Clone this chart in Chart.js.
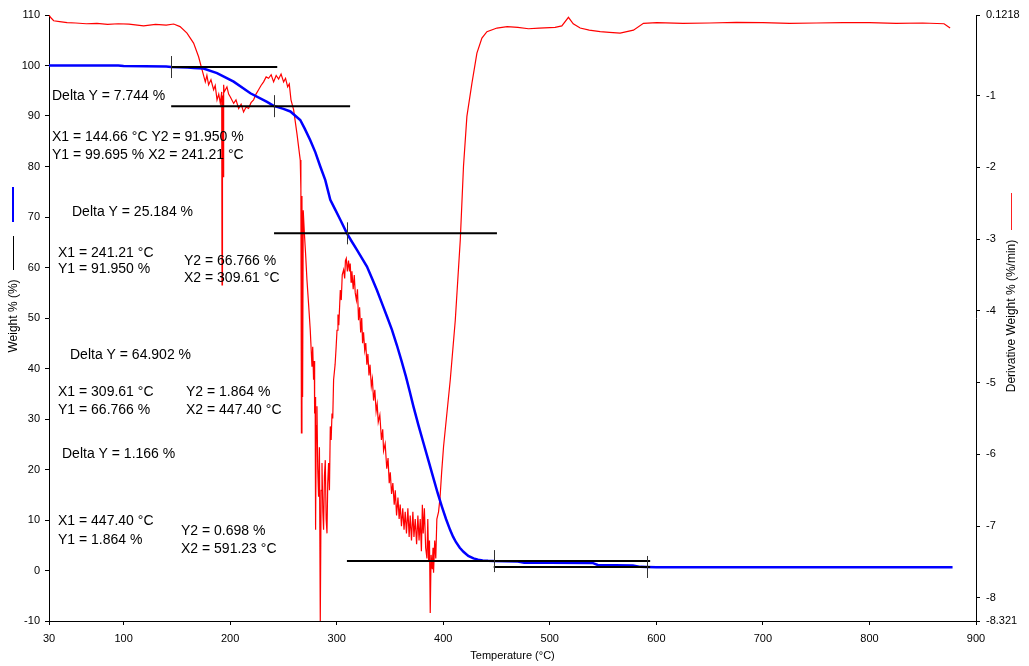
<!DOCTYPE html>
<html>
<head>
<meta charset="utf-8">
<title>TGA - weight and derivative weight</title>
<script src="https://cdn.jsdelivr.net/npm/chart.js@4.4.0/dist/chart.umd.min.js"></script>
<style>
  html, body { margin: 0; padding: 0; background: #fff; }
  #wrap { width: 1029px; height: 666px; }
</style>
</head>
<body>
<div id="wrap"><canvas id="tga-chart" width="1029" height="666"></canvas></div>
<script>
// axis ticks
const tempTicks = [30, 100, 200, 300, 400, 500, 600, 700, 800, 900];
const weightTicks = [-10, 0, 10, 20, 30, 40, 50, 60, 70, 80, 90, 100, 110];
const derivTicks = [0.1218, -1, -2, -3, -4, -5, -6, -7, -8, -8.321];

// weight % (blue, left axis)
const weightTemp = [30, 95, 100, 140, 144.66, 160, 166, 175, 187.7, 203.3, 219, 234.6, 241.21, 244, 250,
  256.5, 265.8, 270, 275.2, 280, 284.6, 289.3, 294, 299, 303.5, 309.61, 314, 319, 323.5, 328.4,
  333, 337.8, 342.5, 347.2, 351.8, 356.5, 360.7, 365, 368.5, 372, 376.7, 381.5, 386.2, 390.9, 394.8,
  398.8, 402.6, 406.5, 409.2, 412, 415.5, 419, 423.5, 428.4, 432.7, 437, 442, 447.4, 470, 476,
  500, 540, 545, 578, 585, 591.23, 600, 700, 800, 878];
const weightPct = [100, 100, 99.9, 99.8, 99.695, 99.6, 99.5, 99.4, 98.5, 96.8, 94.5, 92.8, 91.95, 91.8, 91.4,
  90.9, 89.2, 87.5, 85.2, 82.8, 80, 77.3, 73.4, 71.3, 69.4, 66.766, 65.2, 63.5, 61.9, 60.2,
  57.9, 55.5, 52.9, 50.3, 47.7, 44.6, 41.6, 38.4, 35.5, 32.5, 28.8, 25.2, 21.7, 18.2, 15.3,
  12.6, 10.2, 8.0, 6.7, 5.6, 4.5, 3.7, 2.9, 2.4, 2.15, 2.0, 1.92, 1.864, 1.8, 1.55,
  1.52, 1.5, 1.1, 1.0, 0.72, 0.68, 0.66, 0.65, 0.65, 0.65];

// derivative weight %/min (red, right axis)
const derivTemp = [
  30, 32, 34.4, 40, 47, 55, 65, 75, 85, 95, 105, 118.8, 130, 140, 147, 153,
  159.5, 165.7, 170.4, 173.6, 176.7, 178.2, 179.8, 182, 184.5, 186, 187.7, 189.3, 190.8, 192.1, 192.4,
  192.8, 193.4, 193.9, 194.4, 197, 198.6, 200.2, 203.3, 205.5, 208, 210.3, 212.6, 215, 217.3, 219.6,
  222, 224.3, 226.7, 229, 231.4, 233.8, 236.1, 238.5, 240.8, 243.2, 245.5, 247.8, 250.2, 252, 254,
  255.5, 257.1, 259.6, 262.7, 265.8,
  266.4, 266.9, 267.4, 268.0, 268.6, 269.6, 270.8, 272.1, 273.6, 275.2, 276.8, 277.5, 278.3, 279, 279.3,
  279.8, 280.2, 280.8, 281.5, 282.2, 283, 283.8, 284.6, 285.4, 286.2, 287, 287.7, 288.5, 289.3, 290.1,
  290.9, 291.6, 292.4, 293.2, 294, 294.8, 295.6, 296.3, 297.1, 298.5, 299.5,
  300.3, 301.2, 302, 303.4, 304.3, 305.2, 306.5, 307.5, 308.2, 309,
  310, 311.1, 312, 312.7, 313.5, 314.3, 315.5, 316.5, 317.4, 318.5,
  319.5, 320.5, 321.5, 322.5, 323.5, 324.3, 325.2, 326.3, 327.3, 328.3,
  329.3, 330.3, 331.3, 332.5, 333.5, 334.6, 335.8, 337, 338, 339,
  340.5, 342, 343.2, 344, 345.5, 347, 348.2, 349.3, 350.3, 351.5,
  352.7, 354, 355, 356.2, 357.5, 358.6, 359.6, 360.8, 362, 363.2,
  364.3, 365.5, 366.8, 368, 369, 370.2, 371.5, 372.5, 373.7, 375,
  376.2, 377.3, 378.4, 379.5, 380.4, 381.2, 382.3, 383.5, 384.7, 385.5,
  386.3, 387.1, 387.8, 388.6, 389.7, 390.4, 390.9, 392, 393, 394,
  395.6, 397, 398.5, 400.3,
  406.6, 411.3, 416, 419, 422.2, 426.9, 431.6, 436.3, 441, 450.4,
  460, 470, 480, 490, 505, 511.3, 517.5, 522, 528.5, 537,
  547.3, 556, 566, 578.5, 587.9, 600.5, 625, 650, 675, 700,
  725, 750, 775, 800, 825, 850, 870, 875.7];
const derivVal = [
  0.12, 0.08, 0.042, 0.03, 0.015, 0.01, 0.0, 0.005, -0.01, 0.0, -0.005, -0.03, -0.01, -0.02, -0.004, -0.04,
  -0.13, -0.27, -0.46, -0.64, -0.81, -0.72, -0.85, -0.78, -0.92, -0.86, -1.06, -0.98, -1.11, -0.95, -3.64,
  -1.0, -2.13, -0.85, -0.95, -0.88, -0.98, -1.02, -1.11, -1.06, -1.18, -1.12, -1.23, -1.16, -1.18, -1.1,
  -1.06, -0.98, -0.92, -0.86, -0.81, -0.74, -0.76, -0.71, -0.81, -0.72, -0.77, -0.7, -0.81, -0.76, -0.88,
  -0.84, -1.06, -1.2, -1.53, -1.9,
  -2.3, -5.7, -2.4, -5.2, -2.6, -2.9, -3.2, -3.57, -3.9, -4.27, -4.78, -4.5, -4.96, -4.7, -5.43,
  -5.2, -7.05, -5.6, -5.33, -6.2, -6.59, -5.9, -8.32, -6.5, -6.12, -6.8, -7.05, -6.3, -6.08, -6.9,
  -7.1, -6.4, -6.12, -6.5, -5.61, -5.8, -5.43, -5.5, -4.96, -4.75, -4.5,
  -4.27, -4.05, -4.2, -3.71, -3.85, -3.5, -3.43, -3.55, -3.3, -3.27,
  -3.45, -3.3, -3.45, -3.34, -3.6, -3.45, -3.7, -3.5, -3.75, -3.85,
  -3.7, -4.13, -3.95, -4.3, -4.1, -4.45, -4.3, -4.55, -4.45, -4.75,
  -4.6, -4.9, -4.75, -5.05, -4.95, -5.25, -5.1, -5.4, -5.3, -5.55,
  -5.45, -5.8, -5.65, -5.95, -5.85, -6.2, -6.05, -6.4, -6.25, -6.55,
  -6.4, -6.7, -6.5, -6.85, -6.6, -6.9, -6.7, -7.0, -6.75, -7.05,
  -6.8, -7.1, -6.75, -7.15, -6.85, -7.2, -6.8, -7.15, -6.9, -7.25,
  -6.85, -7.2, -6.9, -7.35, -6.7, -7.1, -6.75, -7.3, -7.45, -6.9,
  -7.5, -7.2, -8.21, -7.4, -7.6, -7.3, -7.65, -7.2, -7.45, -6.9,
  -6.8, -6.6, -6.25, -5.89,
  -4.96, -4.13, -3.01, -1.99, -1.29, -0.83, -0.41, -0.2, -0.11, -0.06,
  -0.04, -0.05, -0.07, -0.06, -0.05, -0.03, 0.09, 0.0, -0.06, -0.09,
  -0.11, -0.12, -0.13, -0.09, 0.006, 0.015, 0.005, 0.01, 0.02, 0.015,
  0.005, 0.01, 0.015, 0.015, 0.005, 0.01, 0.0, -0.06];

// step analysis results
const stepX1 = [144.66, 241.21, 309.61, 447.40];
const stepY1 = [99.695, 91.950, 66.766, 1.864];
const stepX2 = [241.21, 309.61, 447.40, 591.23];
const stepY2 = [91.950, 66.766, 1.864, 0.698];
const stepDelta = [7.744, 25.184, 64.902, 1.166];

// black horizontal step lines (level, start, end) and their marker position
const lineLevel = [99.695, 91.950, 66.766, 1.864, 0.698];
const lineStart = [144.66, 144.66, 241.21, 309.61, 447.40];
const lineEnd = [244.2, 312.6, 450.4, 594.2, 594.2];
const lineMark = [144.66, 241.21, 309.61, 447.40, 591.23];

function toPoints(xs, ys) {
  return xs.map((x, i) => ({ x: x, y: ys[i] }));
}

const fx = v => v.toFixed(2) + ' °C';
const fy = v => v.toFixed(3) + ' %';

// where each note sits on the canvas
const deltaPos = [[52, 96], [72, 212], [70, 355], [62, 454]];
const x1Pos = [null, [58, 253], [58, 392], [58, 521]];
const y1Pos = [null, [58, 269], [58, 410], [58, 540]];
const y2Pos = [null, [184, 261], [186, 392], [181, 531]];
const x2Pos = [null, [184, 278], [186, 410], [181, 549]];

const notes = [];
stepX1.forEach((x1, i) => {
  notes.push(['Delta Y = ' + stepDelta[i].toFixed(3) + ' %', deltaPos[i]]);
  if (i === 0) {
    notes.push(['X1 = ' + fx(x1) + ' Y2 = ' + fy(stepY2[i]), [52, 137]]);
    notes.push(['Y1 = ' + fy(stepY1[i]) + ' X2 = ' + fx(stepX2[i]), [52, 155]]);
  } else {
    notes.push(['X1 = ' + fx(x1), x1Pos[i]]);
    notes.push(['Y1 = ' + fy(stepY1[i]), y1Pos[i]]);
    notes.push(['Y2 = ' + fy(stepY2[i]), y2Pos[i]]);
    notes.push(['X2 = ' + fx(stepX2[i]), x2Pos[i]]);
  }
});

const FONT = '"Liberation Sans", Arial, sans-serif';

// step markers, notes, axis titles
const overlay = {
  id: 'overlay',
  afterDraw(chart) {
    const ctx = chart.ctx;
    const xs = chart.scales.x;
    const ys = chart.scales.y;
    ctx.save();

    ctx.strokeStyle = '#333';
    ctx.lineWidth = 1;
    lineMark.forEach((m, i) => {
      const px = Math.round(xs.getPixelForValue(m)) + 0.5;
      const py = ys.getPixelForValue(lineLevel[i]);
      ctx.beginPath();
      ctx.moveTo(px, py - 11);
      ctx.lineTo(px, py + 11);
      ctx.stroke();
    });

    ctx.fillStyle = '#000';
    ctx.font = '14px ' + FONT;
    ctx.textBaseline = 'middle';
    ctx.textAlign = 'left';
    notes.forEach(n => ctx.fillText(n[0], n[1][0], n[1][1]));

    // x title
    ctx.font = '11px ' + FONT;
    ctx.textAlign = 'center';
    ctx.fillText('Temperature (°C)', (chart.chartArea.left + chart.chartArea.right) / 2, 656);

    // left title with line keys
    ctx.lineWidth = 2;
    ctx.strokeStyle = '#0000ff';
    ctx.beginPath(); ctx.moveTo(13, 187); ctx.lineTo(13, 222); ctx.stroke();
    ctx.strokeStyle = '#000';
    ctx.lineWidth = 1;
    ctx.beginPath(); ctx.moveTo(13.5, 236); ctx.lineTo(13.5, 270); ctx.stroke();
    ctx.save();
    ctx.translate(14, 316);
    ctx.rotate(-Math.PI / 2);
    ctx.font = '12px ' + FONT;
    ctx.fillText('Weight % (%)', 0, 0);
    ctx.restore();

    // right title with line key
    ctx.strokeStyle = '#ff2020';
    ctx.lineWidth = 1;
    ctx.beginPath(); ctx.moveTo(1011.5, 193); ctx.lineTo(1011.5, 230); ctx.stroke();
    ctx.save();
    ctx.translate(1012, 316);
    ctx.rotate(-Math.PI / 2);
    ctx.font = '12px ' + FONT;
    ctx.fillText('Derivative Weight % (%/min)', 0, 0);
    ctx.restore();

    ctx.restore();
  }
};

const datasets = [
  {
    label: 'Derivative Weight %',
    data: toPoints(derivTemp, derivVal),
    yAxisID: 'y2',
    borderColor: '#ff0000',
    borderWidth: 1.2,
    order: 3
  },
  {
    label: 'Weight %',
    data: toPoints(weightTemp, weightPct),
    yAxisID: 'y',
    borderColor: '#0000ff',
    borderWidth: 2.5,
    order: 2
  }
];
lineLevel.forEach((lv, i) => {
  datasets.push({
    label: 'step ' + (i + 1),
    data: [{ x: lineStart[i], y: lv }, { x: lineEnd[i], y: lv }],
    yAxisID: 'y',
    borderColor: '#000',
    borderWidth: 2,
    order: 1
  });
});

function axisStyle(size) {
  return {
    grid: { display: true, drawOnChartArea: false, drawTicks: true, tickLength: 4, color: '#000' },
    border: { display: true, color: '#000', width: 1 },
    ticks: { color: '#000', font: { family: FONT, size: size }, autoSkip: false, maxRotation: 0 }
  };
}

const xAxis = axisStyle(11);
xAxis.type = 'linear';
xAxis.position = 'bottom';
xAxis.min = 30;
xAxis.max = 900;
xAxis.ticks.padding = 7;
xAxis.afterBuildTicks = s => { s.ticks = tempTicks.map(v => ({ value: v })); };
xAxis.afterFit = s => { s.height = 45; };

const yAxis = axisStyle(11);
yAxis.type = 'linear';
yAxis.position = 'left';
yAxis.min = -10;
yAxis.max = 110;
yAxis.ticks.padding = 5;
yAxis.afterBuildTicks = s => { s.ticks = weightTicks.map(v => ({ value: v })); };
yAxis.afterFit = s => { s.width = 49; };

const y2Axis = axisStyle(11);
y2Axis.type = 'linear';
y2Axis.position = 'right';
y2Axis.min = -8.321;
y2Axis.max = 0.1218;
y2Axis.ticks.padding = 6;
y2Axis.ticks.callback = v => String(v);
y2Axis.afterBuildTicks = s => { s.ticks = derivTicks.map(v => ({ value: v })); };
y2Axis.afterFit = s => { s.width = 53; };

new Chart(document.getElementById('tga-chart'), {
  type: 'line',
  data: { datasets: datasets },
  options: {
    responsive: false,
    devicePixelRatio: 1,
    animation: false,
    layout: { padding: { top: 15, left: 0, right: 0, bottom: 0 } },
    elements: { point: { radius: 0 }, line: { tension: 0 } },
    plugins: { legend: { display: false }, tooltip: { enabled: false } },
    scales: { x: xAxis, y: yAxis, y2: y2Axis }
  },
  plugins: [overlay]
});
</script>
</body>
</html>
